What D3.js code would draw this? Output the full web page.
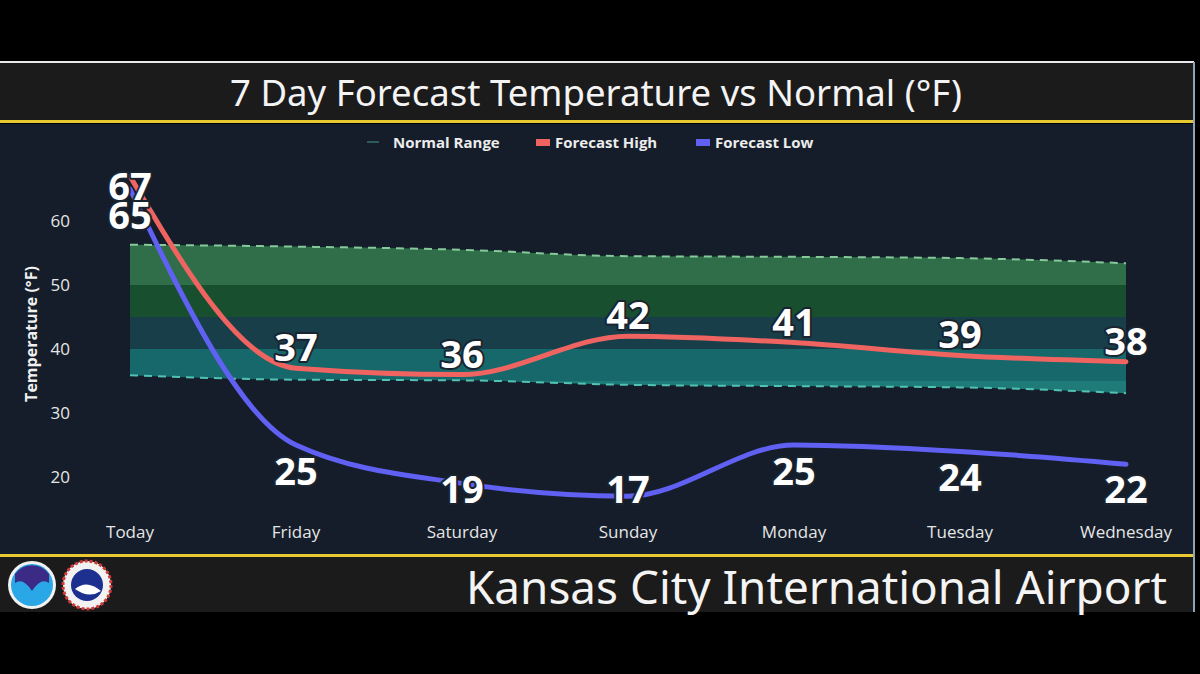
<!DOCTYPE html>
<html>
<head>
<meta charset="utf-8">
<script src="https://cdn.jsdelivr.net/npm/d3@7"></script>
<style>
  body { margin: 0; background: #000; }
  svg { display: block; }
</style>
</head>
<body>
<div id="chart"></div>
<script>
var days = ["Today", "Friday", "Saturday", "Sunday", "Monday", "Tuesday", "Wednesday"]
var forecastHigh = [67, 37, 36, 42, 41, 39, 38]
var forecastLow = [65, 25, 19, 17, 25, 24, 22]
var normalTop = [56.3, 56.0, 55.5, 54.5, 54.4, 54.2, 53.4]
var normalBottom = [35.9, 35.2, 35.1, 34.4, 34.2, 34.0, 33.1]
var yTicks = [20, 30, 40, 50, 60]
// colour bands inside the normal range (lower edge of each band)
var bandEdges = [20, 35, 40, 45, 50]
var bandColors = ["#1e7b78", "#17686b", "#183f49", "#184f2e", "#2f6e48"]

var svg = d3.select("#chart").append("svg")
  .attr("width", 1200)
  .attr("height", 674)

svg.append("rect").attr("width", 1200).attr("height", 674).attr("fill", "#000")

// frame
svg.append("rect").attr("x", 0).attr("y", 63).attr("width", 1194).attr("height", 58).attr("fill", "#1b1b1c")
svg.append("rect").attr("x", 0).attr("y", 124).attr("width", 1194).attr("height", 430).attr("fill", "#141d29")
svg.append("rect").attr("x", 0).attr("y", 557).attr("width", 1194).attr("height", 55).attr("fill", "#1c1b1b")
svg.append("line").attr("x1", 0).attr("x2", 1194).attr("y1", 62).attr("y2", 62).attr("stroke", "#e8e8e8").attr("stroke-width", 2)
svg.append("line").attr("x1", 1194).attr("x2", 1194).attr("y1", 62).attr("y2", 612).attr("stroke", "#8fa3b8").attr("stroke-width", 2)
svg.append("rect").attr("x", 0).attr("y", 120).attr("width", 1193).attr("height", 3).attr("fill", "#e9c932")
svg.append("rect").attr("x", 0).attr("y", 554).attr("width", 1193).attr("height", 3).attr("fill", "#e9c932")

svg.append("text")
  .text("7 Day Forecast Temperature vs Normal (°F)")
  .attr("x", 596).attr("y", 106)
  .attr("text-anchor", "middle")
  .attr("fill", "#f4f4f4")
  .attr("font-family", "Noto Sans")
  .attr("font-size", 36)
  .attr("textLength", 732)
  .attr("lengthAdjust", "spacingAndGlyphs")

svg.append("text")
  .text("Kansas City International Airport")
  .attr("x", 1167).attr("y", 604)
  .attr("text-anchor", "end")
  .attr("fill", "#f4f4f4")
  .attr("font-family", "Noto Sans")
  .attr("font-size", 45)
  .attr("textLength", 701)
  .attr("lengthAdjust", "spacingAndGlyphs")

// logos (simple seals)
var logo1 = svg.append("g").attr("transform", "translate(32,585)")
logo1.append("circle").attr("r", 24).attr("fill", "#f2f2f2")
logo1.append("circle").attr("r", 21).attr("fill", "#2aa7e6")
logo1.append("path").attr("d", "M-17,-11 A21,21 0 0 1 17,-11 L17,-2 Q9,-8 0,6 Q-9,-8 -17,-2 Z").attr("fill", "#3b2a86")
var logo2 = svg.append("g").attr("transform", "translate(87,585)")
logo2.append("circle").attr("r", 24).attr("fill", "#f2f2f2")
logo2.append("circle").attr("r", 24).attr("fill", "none").attr("stroke", "#d23a3a").attr("stroke-width", 3).attr("stroke-dasharray", "3 2")
logo2.append("circle").attr("r", 16).attr("fill", "#1d2f8f")
logo2.append("path").attr("d", "M-12,4 Q0,-6 14,6 Q2,14 -12,4 Z").attr("fill", "#ffffff")

// scales
var x = d3.scalePoint().domain(days).range([130, 1126])
var y = d3.scaleLinear().domain([20, 60]).range([477, 221])

var pts = days.map(function (d, i) {
  return { day: d, hi: forecastHigh[i], lo: forecastLow[i], top: normalTop[i], bot: normalBottom[i] }
})

// normal range
var area = d3.area()
  .x(d => x(d.day))
  .y0(d => y(d.bot))
  .y1(d => y(d.top))
  .curve(d3.curveMonotoneX)

svg.append("clipPath").attr("id", "normclip").append("path").attr("d", area(pts))

var bands = svg.append("g").attr("clip-path", "url(#normclip)")
bands.selectAll("rect")
  .data(bandEdges)
  .enter()
  .append("rect")
  .attr("x", x("Today"))
  .attr("width", x("Wednesday") - x("Today"))
  .attr("y", (d, i) => i == bandEdges.length - 1 ? y(70) : y(bandEdges[i + 1]))
  .attr("height", (d, i) => y(d) - (i == bandEdges.length - 1 ? y(70) : y(bandEdges[i + 1])))
  .attr("fill", (d, i) => bandColors[i])

var edge = function (key) {
  return d3.line().x(d => x(d.day)).y(d => y(d[key])).curve(d3.curveMonotoneX)
}
svg.append("path").attr("d", edge("top")(pts)).attr("fill", "none")
  .attr("stroke", "#86c99b").attr("stroke-width", 2).attr("stroke-dasharray", "8 6")
svg.append("path").attr("d", edge("bot")(pts)).attr("fill", "none")
  .attr("stroke", "#52c2b3").attr("stroke-width", 2).attr("stroke-dasharray", "8 6")

// forecast lines
svg.append("path").attr("d", edge("lo")(pts)).attr("fill", "none")
  .attr("stroke", "#6060f2").attr("stroke-width", 5).attr("stroke-linecap", "round")
svg.append("path").attr("d", edge("hi")(pts)).attr("fill", "none")
  .attr("stroke", "#ef6461").attr("stroke-width", 5).attr("stroke-linecap", "round")

// axes text
svg.selectAll("ytick")
  .data(yTicks)
  .enter()
  .append("text")
  .text(d => d)
  .attr("x", 70)
  .attr("y", d => y(d) + 6)
  .attr("text-anchor", "end")
  .attr("fill", "#e6e6e6")
  .attr("font-family", "Open Sans")
  .attr("font-size", 17)

svg.selectAll("xtick")
  .data(days)
  .enter()
  .append("text")
  .text(d => d)
  .attr("x", d => x(d))
  .attr("y", 538)
  .attr("text-anchor", "middle")
  .attr("fill", "#e6e6e6")
  .attr("font-family", "Open Sans")
  .attr("font-size", 17)

svg.append("text")
  .text("Temperature (°F)")
  .attr("transform", "translate(37,334) rotate(-90)")
  .attr("text-anchor", "middle")
  .attr("fill", "#f0f0f0")
  .attr("font-family", "Open Sans")
  .attr("font-weight", "bold")
  .attr("font-size", 16)

// value labels
var labelStyle = function (sel) {
  sel.attr("text-anchor", "middle")
    .attr("dominant-baseline", "central")
    .attr("fill", "#ffffff")
    .attr("stroke", "#1a2430")
    .attr("stroke-width", 4)
    .attr("paint-order", "stroke")
    .attr("stroke-linejoin", "round")
    .attr("font-family", "Open Sans")
    .attr("font-weight", "bold")
    .attr("font-size", 38)
}
svg.selectAll("hilab")
  .data(pts)
  .enter()
  .append("text")
  .text(d => d.hi)
  .attr("x", d => x(d.day))
  .attr("y", d => Math.max(y(d.hi) - 22, 185))
  .call(labelStyle)
svg.selectAll("lolab")
  .data(pts)
  .enter()
  .append("text")
  .text(d => d.lo)
  .attr("x", d => x(d.day))
  .attr("y", d => Math.min(y(d.lo) + 25, 488))
  .call(labelStyle)

// legend
var legend = svg.append("g").attr("font-family", "Open Sans").attr("font-weight", "bold").attr("font-size", 15).attr("fill", "#ececec")
legend.append("line").attr("x1", 367).attr("x2", 379).attr("y1", 142).attr("y2", 142).attr("stroke", "#2c5c57").attr("stroke-width", 2)
legend.append("text").text("Normal Range").attr("x", 393).attr("y", 148)
legend.append("rect").attr("x", 536).attr("y", 139).attr("width", 14).attr("height", 7).attr("fill", "#ef6461")
legend.append("text").text("Forecast High").attr("x", 555).attr("y", 148)
legend.append("rect").attr("x", 696).attr("y", 139).attr("width", 14).attr("height", 7).attr("fill", "#6060f2")
legend.append("text").text("Forecast Low").attr("x", 715).attr("y", 148)
</script>
</body>
</html>
